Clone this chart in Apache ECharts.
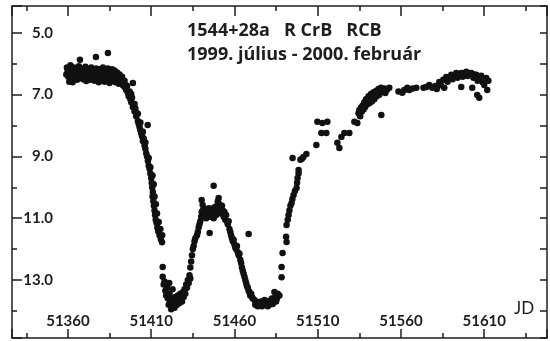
<!DOCTYPE html>
<html>
<head>
<meta charset="utf-8">
<script src="https://cdn.jsdelivr.net/npm/echarts@6/dist/echarts.min.js"></script>
<style>
  html, body { margin: 0; padding: 0; background: #fff; }
  #chart { width: 550px; height: 341px; }
</style>
</head>
<body>
<div id="chart"></div>
<script>
// R CrB light curve, JD 2451326 - 2451648 (magnitudes, brighter = up)
const xMin = 51326.4, xMax = 51647.7;
const yMin = 4.13, yMax = 14.88;
const tickOrigin = 51310; // ticks of the frame sit at 51335 + 25k

const plateau = [
  [51359,6.35],[51359.4,6.12],[51359.8,6.22],[51360.2,6.42],[51360.6,6.15],[51360.8,6.58],[51361,6.30],
  [51361.5,6.05],[51362,6.38],[51362.5,6.22],[51362.8,6.60],[51363,6.48],[51363.5,6.12],[51364,6.30],
  [51364.5,6.40],[51365,6.18],[51365.5,6.52],[51366,6.25],[51366.5,6.08],[51367,6.36],[51367.5,6.45],
  [51368,6.15],[51368.5,6.28],[51369,6.50],[51369.5,6.20],[51370,6.38],[51370.5,6.10],[51371,6.56],
  [51371.5,6.30],[51372,6.45],[51372.5,6.18],[51373,6.35],[51373.5,6.52],[51374,6.12],[51374.5,6.27],
  [51375,6.40],[51375.5,6.20],[51376,6.55],[51376.5,6.32],[51377,6.15],[51377.5,6.46],[51378,6.26],
  [51378.5,6.60],[51379,6.18],[51379.5,6.38],[51380,6.50],[51380.5,6.25],[51381,6.12],[51381.5,6.42],
  [51382,6.58],[51382.5,6.30],[51383,6.20],[51383.5,6.48],[51384,6.15],[51384.5,6.36],[51385,6.62],
  [51385.5,6.25],[51386,6.45],[51386.5,6.18],[51387,6.55],[51387.5,6.32],[51388,6.22],[51388.5,6.60],
  [51389,6.40],[51389.5,6.28],[51390,6.52],[51390.5,6.65],[51391,6.35],[51391.5,6.48],[51392,6.58],
  [51392.5,6.42],[51393,6.70],[51393.5,6.62],[51394,6.55],[51394.5,6.68],[51399,6.62],
  [51367.2,5.87],[51376.8,5.78],[51384,5.65]
];

const fade = [
  [51394,6.75],[51395,6.85],[51395.5,6.72],[51396,6.95],[51396.5,7.05],[51397,6.90],[51397.5,7.15],
  [51398,7.25],[51398.5,7.10],[51399,7.40],[51399.5,7.30],[51400,7.55],[51400.5,7.45],[51401,7.70],
  [51401.5,7.60],[51402,7.85],[51402.5,7.95],[51403,8.05],[51403.5,8.15],[51404,8.25],[51404.5,8.35],
  [51405,8.50],[51405.5,8.42],[51406,8.65],[51406.5,8.75],[51407,8.90],[51407.5,9.00],[51407.9,7.98],
  [51408,9.15],[51408.5,9.30],[51409,9.40],[51409.5,9.55],[51410,9.70],[51410.3,9.85],[51410.6,10.00],
  [51411,10.15],[51410.8,10.30],[51411.3,10.45],[51411.6,10.60],[51412,10.75],[51412.3,10.90],
  [51412.7,11.05],[51413.2,11.15],[51413.7,11.30],[51414.2,11.42],[51415,11.55],[51415.8,11.68],
  [51416.5,11.78],[51416.9,12.58],
  [51398,6.98],[51400,7.30],[51402,7.62],[51403.5,7.90],[51405,8.20],[51406.5,8.55],[51408.5,9.05],
  [51409.5,9.35],[51410.8,9.62],[51411.5,9.90],[51412,10.30],[51412.8,10.55],[51413.5,10.85],
  [51414.5,11.12],[51415.5,11.35],[51416.6,11.55]
];

const firstMin = [
  [51416.9,12.90],[51417.5,13.15],[51418,13.05],[51418.5,13.35],[51419,13.50],[51419.5,13.25],
  [51420,13.60],[51420.5,13.80],[51420.8,13.10],[51421,13.45],[51421.5,13.70],[51422,13.95],
  [51422.5,13.85],[51422.8,13.30],[51423,13.60],[51423.5,13.75],[51424,13.90],[51424.5,13.55],
  [51425,13.70],[51425.5,13.80],[51426,13.50],[51426.5,13.65],[51427,13.75],[51427.5,13.45],
  [51428,13.60],[51428.5,13.70],[51429,13.40],[51429.5,13.55],[51430,13.30],[51430.5,13.45],
  [51431,13.15],[51431.5,13.25],[51432,13.00],[51432.5,13.10],[51433,12.85],[51433.5,12.95]
];

const partialRise = [
  [51433.5,12.60],[51434,12.40],[51434.5,12.20],[51435,12.00],[51435.5,11.90],[51436,11.75],
  [51436.5,11.65],[51437.5,11.55],[51438,11.45],[51438.5,11.30],[51439,11.20],[51439.5,11.10],
  [51440,10.95],[51440.3,10.80],[51440.9,10.57],[51440.3,10.41],[51445.1,11.48],[51447.5,9.95],
  [51441,10.75],[51441.5,10.95],[51442,10.70],[51442.5,10.85],[51443,11.00],[51443.5,10.72],
  [51444,10.88],[51444.5,10.68],[51445,10.80],[51445.5,10.95],[51446,10.70],[51446.5,10.85],
  [51447,10.75],[51447.5,11.00],[51448,10.65],[51448.5,10.80],[51449,10.90],[51449.5,10.60],
  [51450,10.45],[51450.5,10.35],[51451,10.55],[51451.5,10.70],[51452,10.85],[51452.5,10.60],
  [51453,10.75],[51453.5,10.95],[51454,10.80],[51454.5,11.05],[51455,10.90],[51455.5,11.10]
];

const secondFade = [
  [51456,11.20],[51456.5,11.10],[51457,11.35],[51457.5,11.45],[51458,11.55],[51458.5,11.65],
  [51459,11.75],[51459.5,11.70],[51460,11.85],[51460.5,11.95],[51461,12.00],[51461.5,11.90],
  [51462,12.10],[51462.5,12.20],[51463,12.15],[51463.5,12.35],[51464,12.45],[51464.5,12.60],
  [51465,12.70],[51465.5,12.80],[51466,12.90],[51466.5,13.00],[51467,13.10],[51467.5,13.20],
  [51468,13.25],[51468.5,13.35],[51469,13.40],[51469.5,13.50],[51470,13.45],[51470.5,13.55],
  [51471,13.60],[51472,13.65],[51468.5,11.51]
];

const secondMin = [
  [51472.5,13.80],[51473,13.70],[51474,13.85],[51474.5,13.75],[51475,13.80],[51476,13.70],
  [51476.5,13.85],[51477,13.78],[51478,13.65],[51478.5,13.80],[51479,13.75],[51480,13.85],
  [51480.5,13.68],[51481,13.80],[51482,13.72],[51482.5,13.60],[51483,13.78],[51484,13.39],
  [51484.5,13.55],[51485,13.70],[51485.5,13.60],[51486,13.45],[51487,13.50]
];

const recovery = [
  [51488.3,12.91],[51488.3,12.58],[51488.9,12.13],[51491.3,11.77],[51491,11.60],[51491.3,11.22],
  [51492,11.05],[51492.5,10.90],[51493,10.75],[51493.6,10.60],[51494.3,10.51],[51494.8,10.38],
  [51495.5,10.25],[51496.3,10.12],[51497.3,10.02],[51497.6,9.85],[51497.9,9.70],[51498.5,9.55],
  [51498.5,9.44],[51494.9,9.05],[51499.6,9.11],[51500.5,9.08],[51501.4,9.02],[51503.2,8.92],
  [51509.2,8.63],[51512.2,8.24],[51515.2,8.24],[51509.8,7.88],[51512.8,7.92],[51515.8,7.88],
  [51521.8,8.56],[51523,8.73],[51524.2,8.37],[51526,8.24],[51529,8.24],[51532,7.88],[51533.8,7.92]
];

const nearMax = [
  [51534.5,7.60],[51535,7.50],[51535.5,7.70],[51536,7.42],[51536.5,7.55],[51537,7.35],[51537.5,7.48],
  [51538,7.25],[51538.5,7.40],[51539,7.15],[51539.5,7.32],[51540,7.20],[51540.5,7.05],[51541,7.28],
  [51541.5,7.12],[51542,6.98],[51542.5,7.22],[51543,7.08],[51543.5,6.92],[51544,7.15],[51544.5,7.00],
  [51545,6.88],[51545.5,7.05],[51546,6.95],[51546.5,6.82],[51547,7.00],[51547.5,6.88],[51548,6.78],
  [51548.2,7.66],[51549,6.90],[51550,6.80],[51550.6,6.95],[51551.5,6.85],[51553,6.78],
  [51558.5,6.90],[51560.8,6.94],[51562,6.85],[51563.8,6.78],[51565,6.85],[51567,6.80],[51569.2,6.78],
  [51573.5,6.78],[51575.2,6.75],[51577,6.69],[51578.8,6.78],[51580.6,6.72],[51581.5,6.82],[51583,6.59],
  [51584,6.70],[51585.4,6.52],[51586,6.78],[51587.2,6.43],[51588,6.58],[51589,6.48],[51590.2,6.36],
  [51591,6.50],[51592,6.40],[51593.2,6.30],[51594,6.45],[51595,6.35],[51596.2,6.30],[51596.2,6.75],
  [51597,6.42],[51598,6.32],[51599.2,6.26],[51600,6.40],[51601,6.30],[51602.2,6.30],[51602.8,6.78],
  [51603.5,6.45],[51604,6.35],[51605.2,6.36],[51605.8,7.01],[51606,6.55],[51607,7.10],[51607,6.45],
  [51608.2,6.39],[51609,6.60],[51610,6.69],[51611.2,6.46],[51611.8,6.85],[51612.5,6.55]
];

const dark = '#1e1e1e';
const labelFont = { color: dark, fontFamily: 'Lato', fontWeight: 'bold', fontSize: 15 };
const titleFont = { color: dark, fontFamily: 'Open Sans', fontWeight: 'bold', fontSize: 18 };

var chart = echarts.init(document.getElementById('chart'));

function frameX(pos, step, len, showLine) {
  return {
    type: 'value', position: pos,
    min: xMin - tickOrigin, max: xMax - tickOrigin,
    minInterval: step, maxInterval: step,
    axisLine: { show: showLine, lineStyle: { color: dark, width: 1.5 } },
    axisTick: { inside: true, length: len, lineStyle: { color: dark, width: 1.5 } },
    axisLabel: { show: false },
    splitLine: { show: false }
  };
}

var bottomMajor = frameX('bottom', 50, 9, false);
bottomMajor.axisLabel = Object.assign({
  show: true, inside: true, margin: 9,
  formatter: function (v) { return v % 50 === 0 ? String(v + tickOrigin) : ''; }
}, labelFont);

var option = {
  animation: false,
  backgroundColor: '#fff',
  grid: { left: 12, right: 2, top: 6, bottom: 3, containLabel: false },
  title: {
    text: '1544+28a   R CrB   RCB',
    subtext: '1999. július - 2000. február',
    left: 187, top: 22, itemGap: 6, padding: 0,
    textStyle: titleFont,
    subtextStyle: titleFont
  },
  graphic: [{
    type: 'text', left: 514, top: 300,
    style: { text: 'JD', fill: dark, font: '17px Lato' }
  }],
  xAxis: [
    {
      type: 'value', position: 'bottom', min: xMin, max: xMax,
      axisLine: { show: true, lineStyle: { color: dark, width: 1.5 } },
      axisTick: { show: false }, axisLabel: { show: false }, splitLine: { show: false }
    },
    bottomMajor,
    frameX('bottom', 25, 5, false),
    frameX('top', 50, 10, true),
    frameX('top', 25, 5, false)
  ],
  yAxis: [
    {
      type: 'value', position: 'left', inverse: true, min: yMin, max: yMax,
      minInterval: 1, maxInterval: 1,
      axisLine: { show: true, lineStyle: { color: dark, width: 1.5 } },
      axisTick: { inside: true, length: 5, lineStyle: { color: dark, width: 1.5 } },
      axisLabel: { show: false }, splitLine: { show: false }
    },
    {
      // offset by one magnitude so the long ticks and labels fall on odd values
      type: 'value', position: 'left', inverse: true, min: yMin - 1, max: yMax - 1,
      minInterval: 2, maxInterval: 2,
      axisLine: { show: false },
      axisTick: { inside: true, length: 10, lineStyle: { color: dark, width: 1.5 } },
      axisLabel: Object.assign({
        inside: true, margin: 41, align: 'right',
        formatter: function (v) { return v % 2 === 0 ? (v + 1).toFixed(1) : ''; }
      }, labelFont),
      splitLine: { show: false }
    },
    {
      type: 'value', position: 'right', inverse: true, min: yMin, max: yMax,
      minInterval: 1, maxInterval: 1,
      axisLine: { show: true, lineStyle: { color: dark, width: 1.5 } },
      axisTick: { inside: true, length: 7, lineStyle: { color: dark, width: 1.5 } },
      axisLabel: { show: false }, splitLine: { show: false }
    }
  ],
  series: [{
    type: 'scatter',
    xAxisIndex: 0, yAxisIndex: 0,
    symbol: 'circle', symbolSize: 6.5,
    itemStyle: { color: '#111', opacity: 1 },
    data: [].concat(plateau, fade, firstMin, partialRise, secondFade, secondMin, recovery, nearMax)
  }]
};

chart.setOption(option);
</script>
</body>
</html>
